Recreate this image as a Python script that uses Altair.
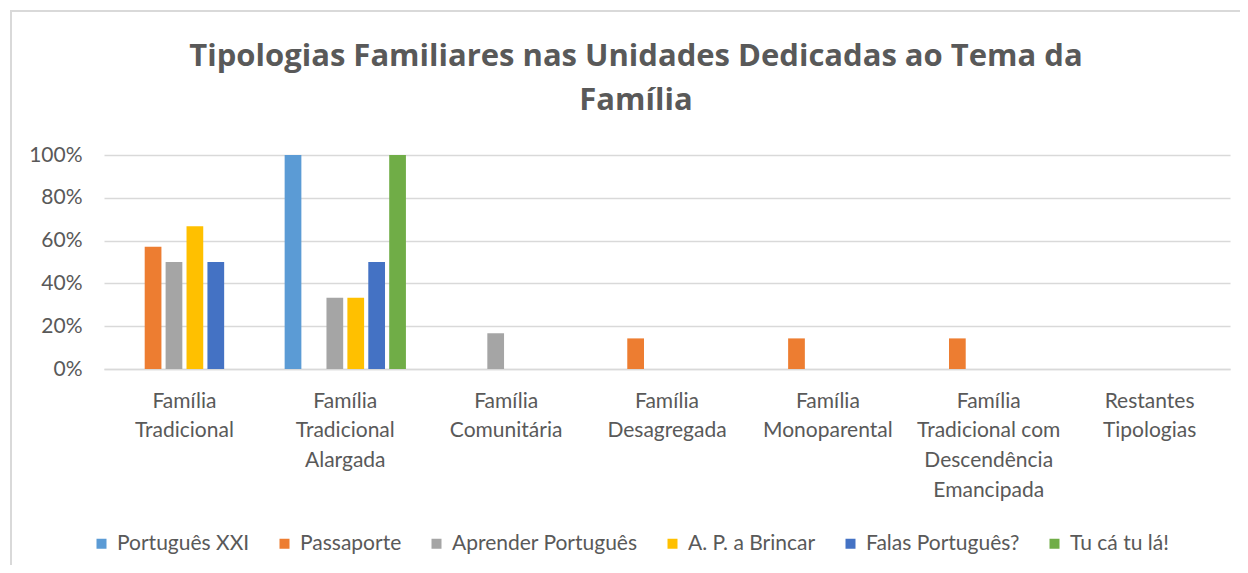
import altair as alt
import pandas as pd

title_lines = ["Tipologias Familiares nas Unidades Dedicadas ao Tema da", "Família"]

categories = [
    "Família|Tradicional",
    "Família|Tradicional|Alargada",
    "Família|Comunitária",
    "Família|Desagregada",
    "Família|Monoparental",
    "Família|Tradicional com|Descendência|Emancipada",
    "Restantes|Tipologias",
]
series = ["Português XXI", "Passaporte", "Aprender Português",
          "A. P. a Brincar", "Falas Português?", "Tu cá tu lá!"]
colors = ["#5B9BD5", "#ED7D31", "#A5A5A5", "#FFC000", "#4472C4", "#70AD47"]

portugues_xxi = [0.0, 1.0, 0.0, 0.0, 0.0, 0.0, 0.0]
passaporte = [0.571, 0.0, 0.0, 0.143, 0.143, 0.143, 0.0]
aprender_portugues = [0.5, 0.333, 0.167, 0.0, 0.0, 0.0, 0.0]
ap_a_brincar = [0.667, 0.333, 0.0, 0.0, 0.0, 0.0, 0.0]
falas_portugues = [0.5, 0.5, 0.0, 0.0, 0.0, 0.0, 0.0]
tu_ca_tu_la = [0.0, 1.0, 0.0, 0.0, 0.0, 0.0, 0.0]

all_values = [portugues_xxi, passaporte, aprender_portugues,
              ap_a_brincar, falas_portugues, tu_ca_tu_la]

rows = []
for s, vals in zip(series, all_values):
    for c, v in zip(categories, vals):
        rows.append({"Categoria": c, "Série": s, "Valor": v})
df = pd.DataFrame(rows)

FONT = "Lato"
GREY = "#595959"
LINE = "#D9D9D9"

bars = alt.Chart(df).mark_bar().encode(
    x=alt.X("Categoria:N", sort=categories,
            scale=alt.Scale(paddingInner=0.22, paddingOuter=0.11),
            axis=alt.Axis(title=None, labelAngle=0, ticks=False,
                          labelExpr="split(datum.label, '|')",
                          labelFont=FONT, labelFontSize=21, labelColor=GREY,
                          labelLineHeight=29.7, labelPadding=21,
                          labelBaseline="top", labelLimit=0,
                          domainColor=LINE, domainWidth=1.5)),
    xOffset=alt.XOffset("Série:N", sort=series,
                        scale=alt.Scale(paddingInner=0.2, paddingOuter=0.1)),
    y=alt.Y("Valor:Q", scale=alt.Scale(domain=[0, 1]),
            axis=alt.Axis(title=None, values=[0, 0.2, 0.4, 0.6, 0.8, 1.0],
                          format=".0%", domain=False, ticks=False,
                          labelFont=FONT, labelFontSize=21, labelColor=GREY,
                          labelPadding=22, gridColor=LINE, gridWidth=1.5)),
    color=alt.Color("Série:N", sort=series,
                    scale=alt.Scale(domain=series, range=colors),
                    legend=alt.Legend(title=None, orient="none",
                                      direction="horizontal",
                                      legendX=-13, legendY=378,
                                      symbolType="square", symbolSize=100,
                                      symbolStrokeWidth=0,
                                      labelFont=FONT, labelFontSize=21,
                                      labelColor=GREY, labelOffset=5,
                                      labelLimit=0, columnPadding=24)),
)

border = alt.Chart(pd.DataFrame({"k": [0]})).mark_rect(
    fill=None, stroke=LINE, strokeWidth=2
).encode(
    x=alt.value(-93), x2=alt.value(1170),
    y=alt.value(-144), y2=alt.value(440),
)

title = alt.Chart(pd.DataFrame({"k": [0]})).mark_text(
    font="Open Sans", fontSize=31, fontWeight="bold", color=GREY,
    lineHeight=44, align="center", baseline="middle",
).encode(
    x=alt.value(532), y=alt.value(-98), text=alt.value(title_lines),
)

chart = alt.layer(border, title, bars).properties(
    width=1126, height=214,
    autosize=alt.AutoSizeParams(type="none"),
    padding={"left": 96, "top": 147, "right": 10, "bottom": 196},
).configure_view(stroke=None)

chart.save("out.html", embed_options={"renderer": "svg", "actions": False})
